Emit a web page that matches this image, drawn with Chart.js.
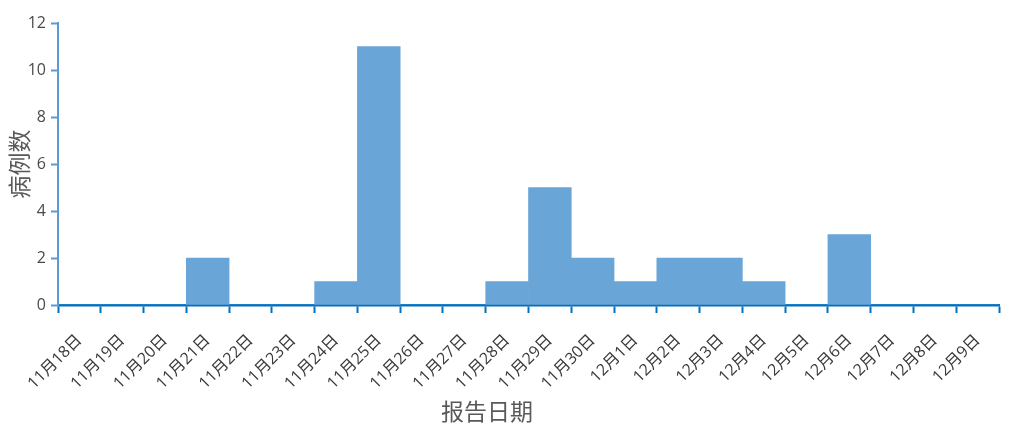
<!DOCTYPE html>
<html>
<head>
<meta charset="utf-8">
<script src="https://cdn.jsdelivr.net/npm/chart.js@4"></script>
<style>
  html, body { margin: 0; padding: 0; background: #ffffff; }
  #wrap { width: 1022px; height: 445px; }
</style>
</head>
<body>
<div id="wrap"><canvas id="chart" width="1022" height="445"></canvas></div>
<script>
// Report dates and case counts
const dates = [
  '11月18日', '11月19日', '11月20日', '11月21日', '11月22日', '11月23日',
  '11月24日', '11月25日', '11月26日', '11月27日', '11月28日', '11月29日',
  '11月30日', '12月1日', '12月2日', '12月3日', '12月4日', '12月5日',
  '12月6日', '12月7日', '12月8日', '12月9日'
];
const cases = [0, 0, 0, 2, 0, 0, 1, 11, 0, 0, 1, 5, 2, 1, 2, 2, 1, 0, 3, 0, 0, 0];
const yTicks = [0, 2, 4, 6, 8, 10, 12];

const xTitle = '报告日期';
const yTitle = '病例数';

const tickFont = "'Open Sans', 'Noto Sans CJK SC', sans-serif";
const titleFont = "'Noto Sans CJK SC', sans-serif";

Chart.defaults.font.family = tickFont;
Chart.defaults.font.size = 16;

// x axis title sits a little left of the plot centre in the original
const xTitlePlugin = {
  id: 'xTitle',
  afterDraw(chart) {
    const { ctx, chartArea } = chart;
    ctx.save();
    ctx.font = "23px " + titleFont;
    ctx.fillStyle = '#595959';
    ctx.textAlign = 'center';
    ctx.textBaseline = 'middle';
    const x = chartArea.left + (chartArea.right - chartArea.left) * 0.456;
    ctx.fillText(xTitle, x, chart.height - 34);
    ctx.restore();
  }
};

const ctx = document.getElementById('chart').getContext('2d');

new Chart(ctx, {
  type: 'bar',
  data: {
    labels: dates,
    datasets: [{
      data: cases,
      backgroundColor: '#6aa5d8',
      borderWidth: 0,
      barPercentage: 1,
      categoryPercentage: 1
    }]
  },
  options: {
    responsive: false,
    animation: false,
    layout: {
      padding: { top: 23, right: 23, left: 0, bottom: 0 }
    },
    plugins: {
      legend: { display: false },
      tooltip: { enabled: false }
    },
    scales: {
      x: {
        offset: true,
        grid: {
          offset: true,
          drawOnChartArea: false,
          drawTicks: true,
          tickLength: 8,
          tickWidth: 2,
          tickColor: '#0070c0'
        },
        border: { color: '#0070c0', width: 2.5 },
        ticks: {
          autoSkip: false,
          minRotation: 45,
          maxRotation: 45,
          padding: 18,
          color: '#3a3a3a',
          font: { family: tickFont, size: 16 }
        },
        afterFit: scale => { scale.height = 140; }
      },
      y: {
        min: 0,
        max: 12,
        afterBuildTicks: scale => { scale.ticks = yTicks.map(v => ({ value: v })); },
        grid: {
          drawOnChartArea: false,
          drawTicks: true,
          tickLength: 7,
          tickWidth: 2,
          tickColor: '#5b9bd5'
        },
        border: { color: '#5b9bd5', width: 2 },
        ticks: {
          padding: 5,
          color: '#4a4a4a',
          font: { family: tickFont, size: 16 }
        },
        title: {
          display: true,
          text: yTitle,
          color: '#595959',
          font: { family: titleFont, size: 23 },
          padding: { top: 5, bottom: 0 }
        },
        afterFit: scale => { scale.width = 58; }
      }
    }
  },
  plugins: [xTitlePlugin]
});
</script>
</body>
</html>
